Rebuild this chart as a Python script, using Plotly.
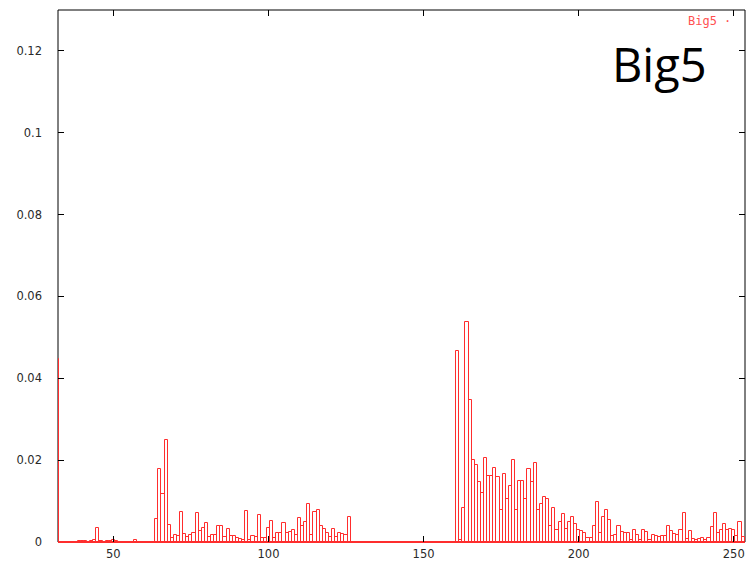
import plotly.graph_objects as go

# Byte value categories (x) and their relative frequencies (y) in Big5 text
byte_codes = list(range(32, 254))

# bytes 32..126
freq_ascii = [
    0.0447, 0, 0, 0, 0, 0, 0, 0.0003, 0.0003, 0.0003,
    0, 0.0002, 0.0006, 0.0035, 0.0003, 0, 0.0003, 0.0003, 0.0004, 0.0003,
    0, 0, 0, 0, 0, 0.0004, 0, 0, 0, 0,
    0, 0, 0.0056, 0.0179, 0.0118, 0.0250, 0.0041, 0.0009, 0.0017, 0.0015,
    0.0073, 0.0020, 0.0012, 0.0018, 0.0022, 0.0070, 0.0026, 0.0034, 0.0047, 0.0012,
    0.0016, 0.0017, 0.0040, 0.0038, 0.0012, 0.0032, 0.0014, 0.0014, 0.0009, 0.0007,
    0.0004, 0.0076, 0.0006, 0.0014, 0.0012, 0.0067, 0.0011, 0.0011, 0.0034, 0.0052,
    0.0011, 0.0022, 0.0022, 0.0047, 0.0022, 0.0024, 0.0029, 0.0016, 0.0058, 0.0038,
    0.0050, 0.0093, 0.0017, 0.0073, 0.0078, 0.0040, 0.0032, 0.0021, 0.0012, 0.0032,
    0.0012, 0.0023, 0.0020, 0.0016, 0.0061,
]

# bytes 127..160
freq_gap = [
    0, 0, 0, 0, 0, 0, 0, 0, 0, 0,
    0, 0, 0, 0, 0, 0, 0, 0, 0, 0,
    0, 0, 0, 0, 0, 0, 0, 0, 0, 0,
    0, 0, 0, 0,
]

# bytes 161..253
freq_big5 = [
    0.0467, 0.0005, 0.0082, 0.0537, 0.0346, 0.0200, 0.0188, 0.0147, 0.0120, 0.0206,
    0.0161, 0.0161, 0.0182, 0.0158, 0.0079, 0.0165, 0.0105, 0.0136, 0.0200, 0.0079,
    0.0150, 0.0150, 0.0106, 0.0179, 0.0147, 0.0194, 0.0079, 0.0093, 0.0109, 0.0104,
    0.0039, 0.0082, 0.0029, 0.0049, 0.0068, 0.0033, 0.0049, 0.0061, 0.0045, 0.0030,
    0.0028, 0.0022, 0.0011, 0.0009, 0.0038, 0.0097, 0.0022, 0.0061, 0.0077, 0.0053,
    0.0015, 0.0018, 0.0038, 0.0025, 0.0023, 0.0023, 0.0006, 0.0030, 0.0018, 0.0006,
    0.0029, 0.0025, 0.0006, 0.0016, 0.0015, 0.0013, 0.0015, 0.0015, 0.0038, 0.0027,
    0.0019, 0.0016, 0.0030, 0.0070, 0.0007, 0.0026, 0.0008, 0.0004, 0.0007, 0.0010,
    0.0006, 0.0010, 0.0037, 0.0070, 0.0022, 0.0029, 0.0045, 0.0030, 0.0033, 0.0030,
    0.0014, 0.0050, 0.0012,
]

frequency = freq_ascii + freq_gap + freq_big5

x_tick_vals = [50, 100, 150, 200, 250]
y_tick_vals = [0, 0.02, 0.04, 0.06, 0.08, 0.1, 0.12]
y_tick_text = ["0", "0.02", "0.04", "0.06", "0.08", "0.1", "0.12"]

RED = "rgb(255,45,45)"
TICK_FONT = dict(family="DejaVu Sans", size=11.5, color="#2a2a2a")

fig = go.Figure(
    go.Bar(
        x=byte_codes,
        y=frequency,
        width=1,
        marker=dict(color="rgba(0,0,0,0)", line=dict(color=RED, width=1)),
        showlegend=False,
        hoverinfo="x+y",
    )
)

fig.update_layout(
    width=746,
    height=562,
    margin=dict(l=58, r=1, t=10, b=20, pad=0),
    paper_bgcolor="white",
    plot_bgcolor="white",
    bargap=0,
    showlegend=False,
    shapes=[
        dict(type="rect", xref="paper", yref="paper", x0=0, x1=1, y0=0, y1=1,
             line=dict(color="black", width=1), layer="below"),
    ],
    annotations=[
        dict(text="Big5 ·", xref="paper", yref="paper", x=0.914, y=0.979,
             xanchor="left", yanchor="middle", showarrow=False,
             font=dict(family="DejaVu Sans Mono", size=12, color="rgb(255,80,80)")),
        dict(text="Big5", xref="paper", yref="paper", x=0.804, y=0.8985,
             xanchor="left", yanchor="middle", showarrow=False,
             font=dict(family="Open Sans", size=47, color="black")),
    ],
)

fig.update_xaxes(
    range=[32.15, 253.62],
    tickvals=x_tick_vals,
    ticks="inside",
    ticklen=6,
    tickwidth=1,
    tickcolor="black",
    mirror="ticks",
    showline=False,
    showgrid=False,
    zeroline=False,
    tickfont=TICK_FONT,
    ticklabelstandoff=3,
)

fig.update_yaxes(
    range=[0, 0.13],
    tickvals=y_tick_vals,
    ticktext=y_tick_text,
    ticks="inside",
    ticklen=6,
    tickwidth=1,
    tickcolor="black",
    mirror="ticks",
    showline=False,
    showgrid=False,
    zeroline=True,
    zerolinecolor=RED,
    zerolinewidth=1,
    tickfont=TICK_FONT,
    ticklabelstandoff=15,
)

fig.write_html("out.html")
